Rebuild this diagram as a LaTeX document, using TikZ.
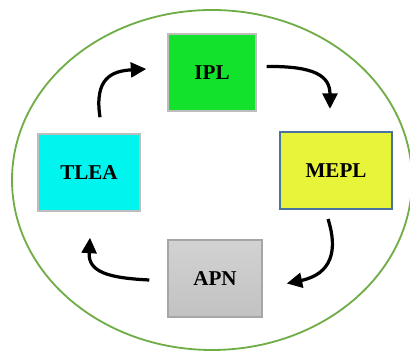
\documentclass[tikz,border=0pt]{standalone}
\usepackage{fontspec}
\setmainfont{Liberation Serif}
\usetikzlibrary{arrows.meta, calc}

\definecolor{ringgreen}{HTML}{70AD47}
\definecolor{iplgreen}{HTML}{12E22C}
\definecolor{mepyellow}{HTML}{E8F43A}
\definecolor{mepblue}{HTML}{4A72A0}
\definecolor{tleacyan}{HTML}{00F5EE}
\definecolor{boxgray}{HTML}{BDBDBD}

\begin{document}
\begin{tikzpicture}[
    x=0.025cm, y=-0.025cm,
    box/.style={draw=boxgray, line width=1pt, minimum height=1.925cm,
                font=\fontsize{15}{18}\selectfont\bfseries},
    flow/.style={-{Triangle[length=11pt, width=10.5pt]}, line width=2.3pt},
    >=Stealth
  ]
  \useasboundingbox (0,0) rectangle (410,352);
  \clip (0,0) rectangle (410,352);

  % Ring round the cycle
  \draw[ringgreen, line width=1.3pt] (212,180) ellipse [x radius=200, y radius=170];

  % Stages
  \node[box, fill=iplgreen, minimum width=2.2cm] (ipl) at (212,72.5) {IPL};
  \node[box, draw=mepblue, line width=1.5pt, fill=mepyellow,
        minimum width=2.8cm] (mepl) at (336,170.5) {MEPL};
  \node[box, top color=gray!35, bottom color=gray!48, draw=gray!70,
        minimum width=2.35cm] (apn) at (215,278.5) {APN};
  \node[box, fill=tleacyan, minimum width=2.55cm] (tlea) at (89,172.5) {TLEA};

  % Cycle arrows
  \draw[flow] ([shift={(10,-6)}]ipl.east)
    .. controls (315,66) and (330,76) .. ([shift={(-6,-22)}]mepl.north);
  \draw[flow] ([shift={(-8,9)}]mepl.south)
    .. controls (338,250) and (332,274) .. ([shift={(24,5)}]apn.east);
  \draw[flow] ([shift={(-18,1.5)}]apn.west)
    .. controls (108,278) and (88,272) .. ([shift={(1,26)}]tlea.south);
  \draw[flow] ([shift={(11,-16)}]tlea.north)
    .. controls (94,78) and (112,71) .. ([shift={(-21,-3.5)}]ipl.west);
\end{tikzpicture}
\end{document}
